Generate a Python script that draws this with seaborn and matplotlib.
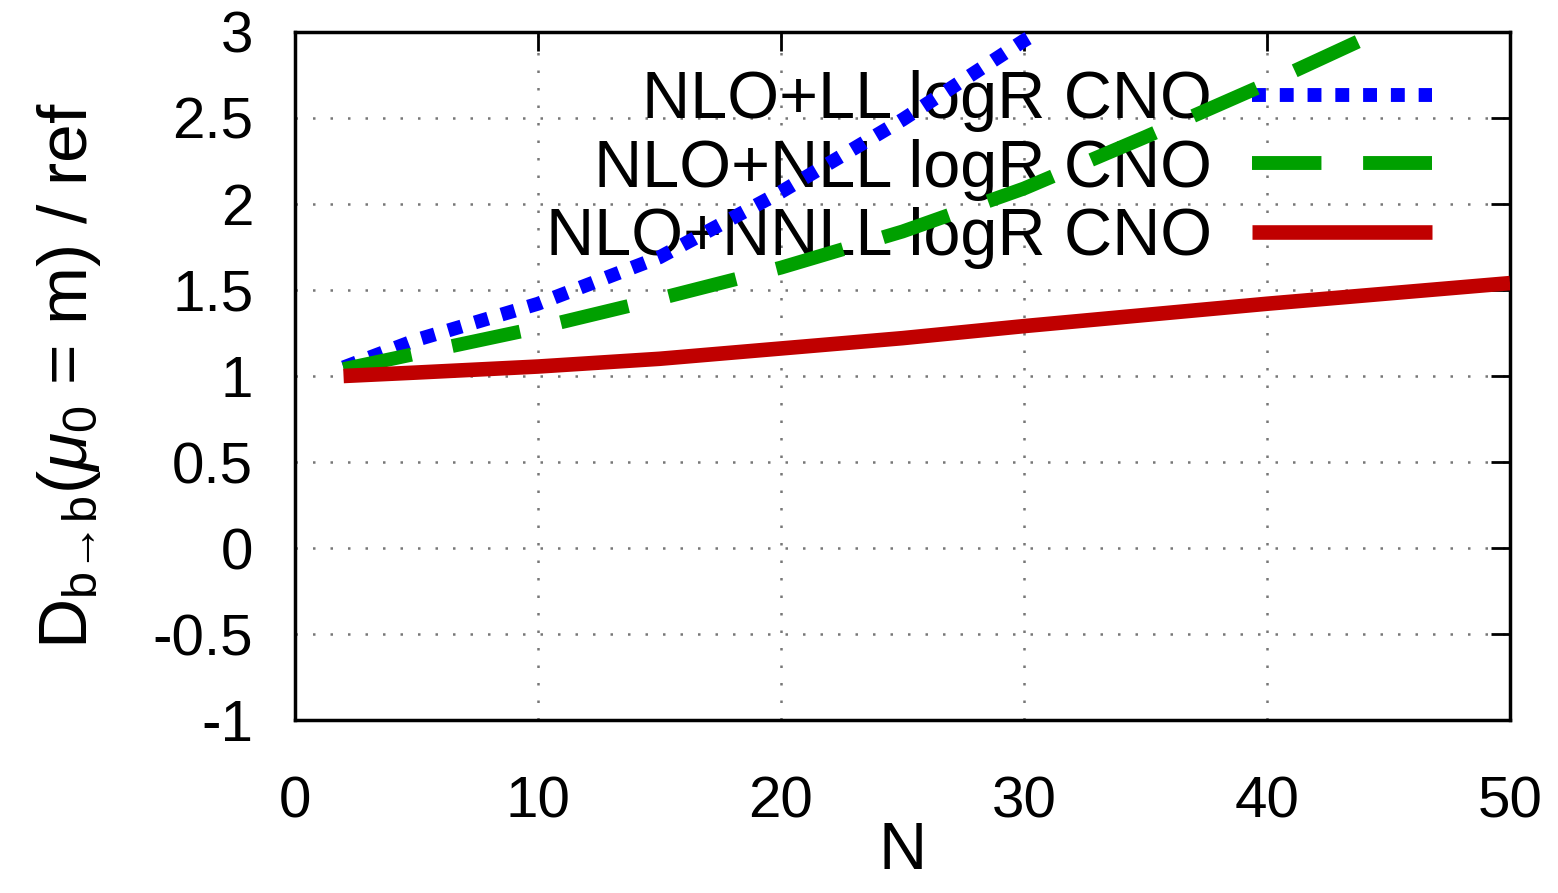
import matplotlib
matplotlib.use("Agg")
import matplotlib.pyplot as plt
import pandas as pd
import seaborn as sns

# values
n_ll = [2, 5, 10, 15, 20, 25, 30, 30.6]
d_ll = [1.05, 1.21, 1.42, 1.69, 2.07, 2.49, 2.95, 3.0]

n_nll = [2, 5, 10, 15, 20, 25, 30, 35, 40, 44.6]
d_nll = [1.04, 1.13, 1.28, 1.45, 1.63, 1.84, 2.09, 2.39, 2.70, 3.0]

n_nnll = [2, 5, 10, 15, 20, 25, 30, 35, 40, 45, 50]
d_nnll = [1.0, 1.02, 1.055, 1.10, 1.16, 1.22, 1.29, 1.355, 1.42, 1.48, 1.54]

labels = ["NLO+LL logR CNO", "NLO+NLL logR CNO", "NLO+NNLL logR CNO"]
x_ticks = [0, 10, 20, 30, 40, 50]
y_ticks = [-1, -0.5, 0, 0.5, 1, 1.5, 2, 2.5, 3]
y_tick_labels = ["-1", "-0.5", "0", "0.5", "1", "1.5", "2", "2.5", "3"]


def main():
    sns.set_style("white")
    plt.rcParams["font.family"] = ["Liberation Sans", "DejaVu Sans"]
    plt.rcParams["mathtext.fontset"] = "custom"
    plt.rcParams["mathtext.rm"] = "Liberation Sans"
    plt.rcParams["mathtext.it"] = "Liberation Sans:italic"
    plt.rcParams["text.color"] = "black"
    plt.rcParams["axes.labelcolor"] = "black"
    plt.rcParams["xtick.color"] = "black"
    plt.rcParams["ytick.color"] = "black"

    fig = plt.figure(figsize=(15.58, 8.93), dpi=100)
    ax = fig.add_axes([0.1893, 0.1937, 0.9692 - 0.1893, 0.9642 - 0.1937])

    df_ll = pd.DataFrame({"N": n_ll, "D": d_ll})
    df_nll = pd.DataFrame({"N": n_nll, "D": d_nll})
    df_nnll = pd.DataFrame({"N": n_nnll, "D": d_nnll})

    sns.lineplot(data=df_ll, x="N", y="D", ax=ax, color="#0000ff", lw=10,
                 linestyle=(0, (1, 1)), estimator=None, sort=False,
                 label=labels[0], zorder=3)
    sns.lineplot(data=df_nll, x="N", y="D", ax=ax, color="#00a000", lw=10,
                 linestyle=(0, (5, 3)), estimator=None, sort=False,
                 label=labels[1], zorder=3)
    sns.lineplot(data=df_nnll, x="N", y="D", ax=ax, color="#c00000", lw=10.5,
                 estimator=None, sort=False, label=labels[2], zorder=3)

    for ln in ax.get_lines():
        ln.set_solid_capstyle("butt")
        ln.set_dash_capstyle("butt")

    ax.set_xlim(0, 50)
    ax.set_ylim(-1, 3)
    ax.set_xticks(x_ticks)
    ax.set_yticks(y_ticks)
    ax.set_yticklabels(y_tick_labels)

    ax.grid(True, color="#777777", linestyle=(0, (1, 6)), linewidth=1.8)
    ax.tick_params(direction="in", length=14, width=2, labelsize=42,
                   top=True, right=True)
    ax.tick_params(axis="x", pad=40)
    ax.tick_params(axis="y", pad=30)
    for sp in ax.spines.values():
        sp.set_linewidth(2.5)
        sp.set_color("black")

    ax.set_xlabel("N", fontsize=48, labelpad=-6)
    ax.set_ylabel("D$_{\\mathrm{b→b}}$($\\mu_0$ = m) / ref",
                  fontsize=50, labelpad=36)

    leg = ax.legend(loc="upper right", bbox_to_anchor=(1432 / 1558, 1 - 70 / 893),
                    bbox_transform=fig.transFigure, frameon=False,
                    markerfirst=False, fontsize=48, handlelength=2.7,
                    handletextpad=0.6, borderpad=0, borderaxespad=0,
                    labelspacing=0.1)
    leg.set_zorder(1)
    for t in leg.get_texts():
        t.set_ha("right")

    fig.savefig("out.png", dpi=100)
    plt.close(fig)


if __name__ == "__main__":
    main()
